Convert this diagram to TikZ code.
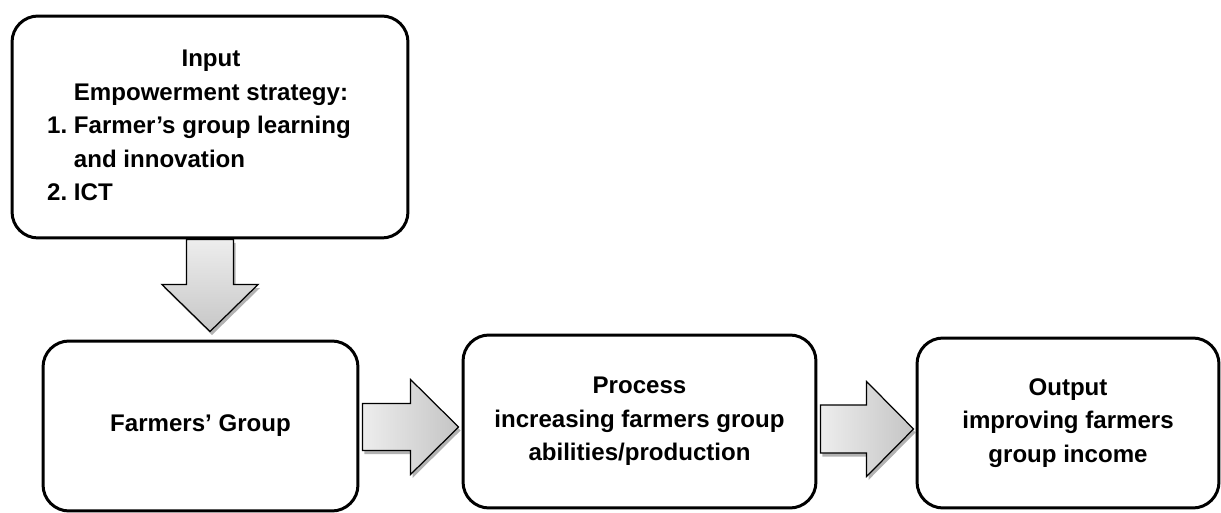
\documentclass[tikz,border=0pt]{standalone}
\usepackage{fontspec}
\setmainfont{Liberation Sans}
\usetikzlibrary{calc, shadows}

\tikzset{
  stagebox/.style={draw, line width=1.7pt, rounded corners=0.52cm, align=center,
    inner sep=0pt, font=\bfseries\fontsize{13.7}{19}\selectfont},
  blockarrow/.style={draw, line width=0.7pt, line join=miter,
    drop shadow={shadow xshift=0.04cm, shadow yshift=-0.07cm, opacity=0.3, fill=black}},
}

\begin{document}
\begin{tikzpicture}[x=0.02cm, y=-0.02cm]
  \useasboundingbox (0,0) rectangle (1221,513);
  % Stage boxes
  \node[stagebox, minimum width=7.92cm, minimum height=4.44cm] (input) at (210,127)
    {\begin{tabular}{@{}l@{\ }l@{}}
       \multicolumn{2}{@{}c@{}}{\hspace*{0.48cm}Input}\\
       \multicolumn{2}{@{}c@{}}{\hspace*{0.48cm}Empowerment strategy:}\\
       1. & Farmer's group learning\\
          & and innovation\\
       2. & ICT
     \end{tabular}\hspace*{0.44cm}};
  \node[stagebox, minimum width=6.30cm, minimum height=3.40cm] (group) at (200.5,426)
    {Farmers' Group};
  \node[stagebox, minimum width=7.06cm, minimum height=3.46cm] (process) at (639.5,421.5)
    {Process\\increasing farmers group\\abilities/production};
  \node[stagebox, minimum width=6.04cm, minimum height=3.40cm] (output) at (1068,423)
    {Output\\improving farmers\\group income};
  % Input -> Farmers' Group
  \coordinate (d0) at (input.south);
  \coordinate (d1) at ($(input.south |- group.north)+(0,-8)$);
  \draw[blockarrow, top color=gray!14, bottom color=gray!44]
    ($(d0)+(-23.5,0)$) -- ($(d1)+(-23.5,-47)$) -- ($(d1)+(-48,-47)$) -- (d1)
    -- ($(d1)+(48,-47)$) -- ($(d1)+(23.5,-47)$) -- ($(d0)+(23.5,0)$) -- cycle;
  % Farmers' Group -> Process
  \coordinate (r0) at ($(group.east)+(3,1)$);
  \coordinate (r1) at ($(process.west |- r0)+(-3,0)$);
  \draw[blockarrow, left color=gray!14, right color=gray!46]
    ($(r0)+(0,-23.5)$) -- ($(r1)+(-48,-23.5)$) -- ($(r1)+(-48,-47.5)$) -- (r1)
    -- ($(r1)+(-48,47.5)$) -- ($(r1)+(-48,23.5)$) -- ($(r0)+(0,23.5)$) -- cycle;
  % Process -> Output
  \coordinate (r2) at ($(process.east)+(3,7.5)$);
  \coordinate (r3) at ($(output.west |- r2)+(-2,0)$);
  \draw[blockarrow, left color=gray!14, right color=gray!46]
    ($(r2)+(0,-24)$) -- ($(r3)+(-47,-24)$) -- ($(r3)+(-47,-47.5)$) -- (r3)
    -- ($(r3)+(-47,47.5)$) -- ($(r3)+(-47,24)$) -- ($(r2)+(0,24)$) -- cycle;
\end{tikzpicture}
\end{document}
